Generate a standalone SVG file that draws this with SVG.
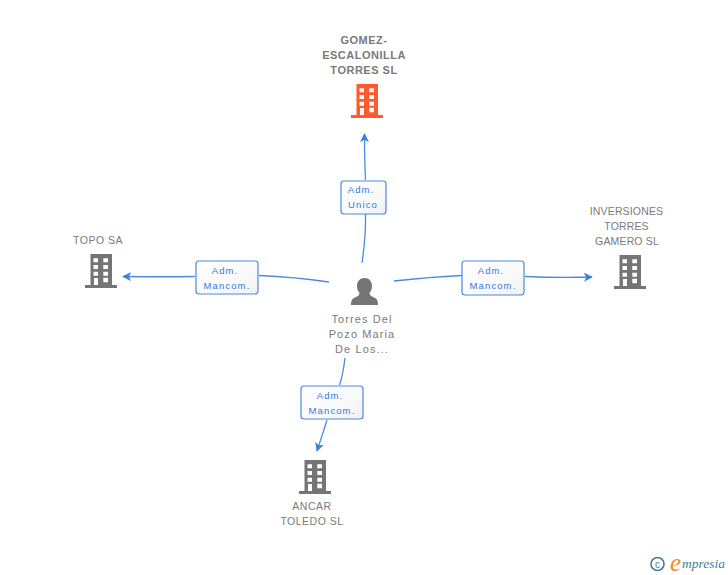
<svg xmlns="http://www.w3.org/2000/svg" width="728" height="575" viewBox="0 0 728 575">
<style>
text{font-family:"Liberation Sans",Arial,sans-serif}
.n{font-size:10.5px;fill:#7a7a7a;text-anchor:middle;letter-spacing:.5px}
.b{font-weight:bold;font-size:11px;letter-spacing:.5px}
.i{letter-spacing:.15px}
.p{font-size:11px;letter-spacing:1.1px}
.l{font-size:9.5px;fill:#2f78e4;text-anchor:middle;letter-spacing:1.1px}
.c{fill:none;stroke:#4a8be2;stroke-width:1.3}
.box{fill:url(#g);stroke:#4a8be2;stroke-width:1.2}
</style>
<defs>
<linearGradient id="g" x1="0" y1="0" x2="1" y2="1"><stop offset="0" stop-color="#fff"/><stop offset=".6" stop-color="#fafafa"/><stop offset="1" stop-color="#f0f0f0"/></linearGradient>
<marker id="a" viewBox="0 0 10 10" refX="9" refY="5" markerWidth="9" markerHeight="9" markerUnits="userSpaceOnUse" orient="auto"><path d="M0 0L10 5L0 10L2.5 5Z" fill="#3a80e0"/></marker>
<symbol id="bld" width="32" height="34" viewBox="0 0 32 34" overflow="visible">
<path fill-rule="evenodd" d="M5.5 0H27V31H32V34H0V31H5.5ZM8.5 4.3V8.3H13V4.3ZM18.3 4.3V8.3H23V4.3ZM8.5 11V15H13V11ZM18.3 11V15H23V11ZM8.5 17.7V21.7H13V17.7ZM18.3 17.7V21.7H23V17.7ZM9 24V31H13V24ZM18.3 23.7V28.3H23V23.7Z"/>
</symbol>
</defs>
<g id="connectors">
<path class="c" d="M362 263Q366 235 365.500 214"/>
<path class="c" marker-end="url(#a)" d="M365.500 180Q364.500 160 364.500 134"/>
<path class="c" d="M329 282Q295 277 259 275.500"/>
<path class="c" marker-end="url(#a)" d="M195 276.500Q160 277 123 276.500"/>
<path class="c" d="M394 281Q430 277 462 275.500"/>
<path class="c" marker-end="url(#a)" d="M525 276.500Q560 278 592 277"/>
<path class="c" d="M345 358Q343 375 339.500 385"/>
<path class="c" marker-end="url(#a)" d="M327 420Q322 436 317 451"/>
</g>
<g id="edge-unico"><rect class="box" x="341" y="181" width="45" height="33" rx="3"/><text class="l" x="361" y="193">Adm.</text><text class="l" x="363" y="208">Unico</text></g>
<g id="edge-topo"><rect class="box" x="196" y="261" width="62" height="33" rx="3"/><text class="l" x="225" y="274">Adm.</text><text class="l" x="227" y="289">Mancom.</text></g>
<g id="edge-inversiones"><rect class="box" x="462" y="261" width="62" height="34" rx="3"/><text class="l" x="491" y="274">Adm.</text><text class="l" x="493" y="289">Mancom.</text></g>
<g id="edge-ancar"><rect class="box" x="301" y="386" width="62" height="33" rx="3"/><text class="l" x="330" y="399">Adm.</text><text class="l" x="332" y="414">Mancom.</text></g>
<g id="node-gomez"><text class="n b" x="364" y="44">GOMEZ-</text><text class="n b" x="364" y="59">ESCALONILLA</text><text class="n b" x="364" y="74">TORRES SL</text><use href="#bld" x="351" y="84" fill="#ff5a2e"/></g>
<g id="node-topo"><text class="n" x="98" y="244">TOPO SA</text><use href="#bld" x="85" y="254" fill="#757575"/></g>
<g id="node-inversiones"><text class="n i" x="626.500" y="215">INVERSIONES</text><text class="n i" x="626.500" y="230">TORRES</text><text class="n i" x="627" y="245">GAMERO SL</text><use href="#bld" x="614" y="255" fill="#757575"/></g>
<g id="node-ancar"><text class="n" x="312" y="510">ANCAR</text><text class="n" x="312" y="525">TOLEDO SL</text><use href="#bld" x="299" y="460" fill="#757575"/></g>
<g id="node-torres"><path fill="#757575" d="M364.500 278C369 278 372 281.500 372 286C372 289 371 291 369.500 293C369.500 295 371 296 373 297C376 298 378 299.500 378 305H351C351 299.500 353 298 356 297C358 296 359.500 295 359.500 293C358 291 357 289 357 286C357 281.500 360 278 364.500 278Z"/><text class="n p" x="362" y="323">Torres Del</text><text class="n p" x="362" y="338">Pozo Maria</text><text class="n p" x="362" y="353">De Los...</text></g>
<g id="logo"><circle cx="657.500" cy="564" r="6.500" fill="none" stroke="#3f7f93" stroke-width="1.600"/><text x="657.500" y="567.500" font-size="10" fill="#3f7f93" text-anchor="middle">c</text><text x="670" y="571" font-size="25" font-style="italic" fill="#f28a1e" style="font-family:'Liberation Serif',serif">e</text><text x="682" y="568" font-size="13.500" font-style="italic" fill="#3f7f93" style="font-family:'Liberation Serif',serif">mpresia</text></g>
</svg>
